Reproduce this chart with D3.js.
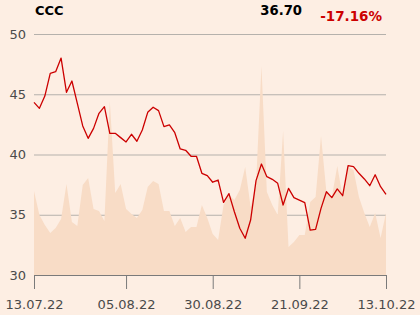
<!DOCTYPE html>
<html>
<head>
<meta charset="utf-8">
<script src="https://cdn.jsdelivr.net/npm/d3@7"></script>
<style>
  body { margin: 0; background: #fdeee3; }
  text { font-family: "DejaVu Sans", sans-serif; }
  .grid line { stroke: #b5b1ac; stroke-width: 1; }
  .grid .domain { display: none; }
  .xaxis line, .xaxis path { stroke: #7a7a7a; }
</style>
</head>
<body>
<div class="chart"></div>
<script>
// trading days, Warsaw session (15.08 holiday)
var dates = [
  "13.07.22","14.07.22","15.07.22","18.07.22","19.07.22","20.07.22","21.07.22","22.07.22",
  "25.07.22","26.07.22","27.07.22","28.07.22","29.07.22",
  "01.08.22","02.08.22","03.08.22","04.08.22","05.08.22","08.08.22","09.08.22","10.08.22",
  "11.08.22","12.08.22","16.08.22","17.08.22","18.08.22","19.08.22","22.08.22","23.08.22",
  "24.08.22","25.08.22","26.08.22","29.08.22","30.08.22","31.08.22",
  "01.09.22","02.09.22","05.09.22","06.09.22","07.09.22","08.09.22","09.09.22","12.09.22",
  "13.09.22","14.09.22","15.09.22","16.09.22","19.09.22","20.09.22","21.09.22","22.09.22",
  "23.09.22","26.09.22","27.09.22","28.09.22","29.09.22","30.09.22",
  "03.10.22","04.10.22","05.10.22","06.10.22","07.10.22","10.10.22","11.10.22","12.10.22","13.10.22"
];

var prices = [
  44.33, 43.83, 44.85, 46.74, 46.87, 48.0, 45.16, 46.1, 44.25, 42.37, 41.34, 42.17, 43.42,
  43.97, 41.76, 41.76, 41.4, 41.04, 41.68, 41.1, 42.03, 43.5, 43.92, 43.64, 42.31, 42.45,
  41.81, 40.46, 40.35, 39.85, 39.85, 38.44, 38.24, 37.7, 37.88, 36.03, 36.75, 35.25, 33.88,
  33.05, 34.56, 37.83, 39.21, 38.16, 37.94, 37.61, 35.81, 37.19, 36.42, 36.22, 36.0, 33.73,
  33.79, 35.53, 36.91, 36.42, 37.14, 36.58, 39.07, 38.99, 38.44, 37.97, 37.41, 38.32, 37.33, 36.70
];

// turnover, arbitrary units
var volumes = [
  84, 60, 50, 42, 47, 56, 91, 53, 49, 90, 97, 66, 64,
  54, 174, 82, 91, 66, 61, 57, 65, 88, 94, 91, 64, 64,
  49, 57, 43, 48, 48, 70, 57, 41, 35, 70, 80, 75, 85,
  108, 68, 90, 209, 83, 70, 60, 144, 28, 33, 40, 40, 73,
  78, 139, 83, 78, 109, 78, 108, 105, 78, 62, 48, 62, 37, 62
];

var xTickLabels = ["13.07.22", "05.08.22", "30.08.22", "21.09.22", "13.10.22"];
var yTicks = [30, 35, 40, 45, 50];

var ticker = "CCC";
var lastPrice = "36.70";
var change = "-17.16%";

var svgWidth = 420;
var svgHeight = 315;
var margin = { top: 34, right: 34, bottom: 40, left: 34 };
var width = svgWidth - margin.left - margin.right;
var height = svgHeight - margin.top - margin.bottom;

var svg = d3.select(".chart")
  .append("svg")
  .attr("width", svgWidth)
  .attr("height", svgHeight);

var chart = svg.append("g")
  .attr("transform", "translate(" + margin.left + "," + margin.top + ")");

var x = d3.scaleLinear().domain([0, dates.length - 1]).range([0, width]);
var y = d3.scaleLinear().domain([30, 50]).range([height, 0]);
var yVol = d3.scaleLinear().domain([0, 241]).range([height, 0]);

// gridlines + y labels
var leftAxis = d3.axisLeft(y).tickValues(yTicks).tickSize(-width).tickPadding(8);
var grid = chart.append("g").attr("class", "grid").call(leftAxis);
grid.selectAll("text")
  .attr("fill", "#4a4a4a")
  .style("font-size", "13px");
grid.selectAll(".tick").filter(function(d) { return d === 30; }).select("line").remove();

// volume area
var area = d3.area()
  .x(function(d, i) { return x(i); })
  .y0(height)
  .y1(function(d) { return yVol(d); });

chart.append("path")
  .datum(volumes)
  .attr("fill", "#f8dcc6")
  .attr("d", area);

// price line
var line = d3.line()
  .x(function(d, i) { return x(i); })
  .y(function(d) { return y(d); });

chart.append("path")
  .datum(prices)
  .attr("fill", "none")
  .attr("stroke", "#cc0000")
  .attr("stroke-width", 1.3)
  .attr("stroke-linejoin", "round")
  .attr("d", line);

// x axis
var bottomAxis = d3.axisBottom(x)
  .tickValues(xTickLabels.map(function(l) { return dates.indexOf(l); }))
  .tickFormat(function(i) { return dates[i]; })
  .tickSize(14)
  .tickSizeOuter(0)
  .tickPadding(11);

var xg = chart.append("g")
  .attr("class", "xaxis")
  .attr("transform", "translate(0," + height + ")")
  .call(bottomAxis);
xg.selectAll("text")
  .attr("fill", "#4a4a4a")
  .style("font-size", "13px");

// header
svg.append("text")
  .attr("x", 35)
  .attr("y", 15)
  .style("font-size", "13px")
  .style("font-weight", "bold")
  .attr("fill", "#000")
  .text(ticker);

svg.append("text")
  .attr("x", 302)
  .attr("y", 15)
  .attr("text-anchor", "end")
  .style("font-size", "13.2px")
  .style("font-weight", "bold")
  .attr("fill", "#000")
  .text(lastPrice);

svg.append("text")
  .attr("x", 382)
  .attr("y", 21)
  .attr("text-anchor", "end")
  .style("font-size", "13.5px")
  .style("font-weight", "bold")
  .attr("fill", "#cc0000")
  .text(change);
</script>
</body>
</html>
